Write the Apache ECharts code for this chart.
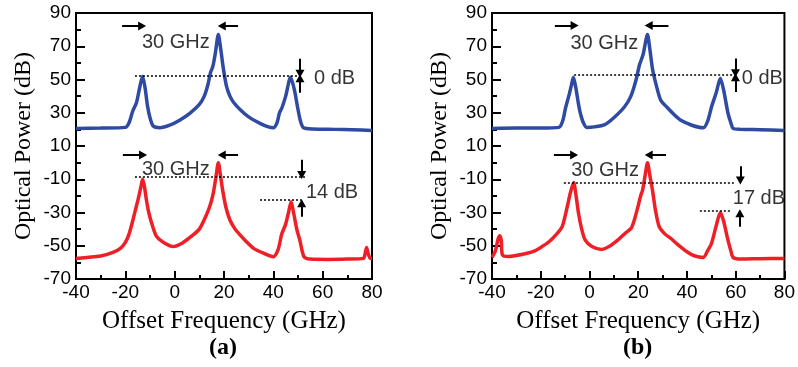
<!DOCTYPE html>
<html><head><meta charset="utf-8">
<script src="https://cdn.jsdelivr.net/npm/echarts@6/dist/echarts.min.js"></script>
<style>html,body{margin:0;padding:0;background:#fff}#c{width:798px;height:367px}</style>
</head><body><div id="c"></div>
<script>
// ---- data (offset frequency GHz, optical power dB) ----
const blueA = [[-40,20.6],[-30,20.8],[-20,21.2],[-18.5,24],[-17,31],[-15.5,36],[-14.2,45],[-13,52],[-12,45],[-11,34],[-10,27],[-8.7,22],[-6,21],[-2,22.5],[2,25.5],[6,29.5],[10,35],[12,40],[13.5,47],[14.5,54],[15.5,58],[16.5,66],[17.7,77],[18.7,68],[19.7,57],[21,46],[22.4,40],[24,36],[26.5,32],[30,27.5],[34.6,23.6],[38,21.5],[40,21],[41.5,24],[42.5,30],[43.5,33],[45,40],[47,51.3],[48.5,44],[50,32],[51,25],[52.2,21],[56,20.2],[65,20],[72,19.8],[80,19.3]];
const redA = [[-40,-57.6],[-30,-56.2],[-25,-54],[-22,-51.6],[-20,-48],[-18.5,-43],[-17,-35],[-16,-29],[-14.8,-22],[-13.6,-14],[-13,-10],[-12.3,-14],[-11.5,-22],[-10.5,-30],[-9,-38],[-7.3,-44.5],[-4,-48.5],[-0.5,-50.5],[3,-48.5],[6.2,-45],[10,-40],[13,-31],[14.5,-25],[15.7,-18],[16.8,-8],[17.7,0],[18.6,-8],[19.5,-17],[20.8,-27],[22.4,-34.5],[24.5,-40],[26.5,-43.5],[29,-47.5],[32,-51.6],[36,-54.5],[40,-56.6],[42,-52],[43.4,-43],[45,-37],[46.3,-29],[47.2,-23.5],[48.2,-30],[49.5,-40],[50.8,-47],[52.4,-56.5],[55,-58],[62,-58.2],[70,-58],[76.5,-57.6],[77.3,-54],[77.8,-51],[78.5,-55],[79.2,-57.5],[80,-57.6]];
const blueB = [[-40,20.6],[-30,20.8],[-20,20.8],[-12.5,21.2],[-11,25],[-9.8,33],[-8.5,40],[-7.5,46],[-6.6,51.3],[-5.6,45],[-4.6,36],[-3.8,30],[-2.5,24],[-1.1,21.2],[2,21.5],[6.3,22.9],[10,27],[14.4,33.6],[17,40],[19.1,49.7],[20.5,58.7],[22,65],[23.8,77],[24.8,68],[25.9,56],[27.5,46],[29.2,37.7],[32,33],[35,28.5],[37.3,25.6],[42,22.5],[46.7,21],[48.5,25],[50.1,33.6],[52,42],[53.7,50.7],[55,44],[56.8,30],[58,24],[58.9,20.6],[62,20],[70,19.8],[80,19.3]];
const redB = [[-40,-57],[-38.6,-53],[-37.5,-46],[-36.8,-44],[-36.2,-47],[-35.7,-55.6],[-33,-56.5],[-31.4,-56.2],[-27,-55],[-23.3,-53.6],[-20,-51],[-16.6,-47.6],[-13.5,-43],[-11.2,-38.5],[-9.2,-27],[-7.8,-18],[-6.5,-12],[-5.5,-20],[-4.5,-30.5],[-3.2,-40],[-1.8,-46.5],[1,-50.5],[5,-52.2],[8,-50.5],[11.7,-46.5],[15,-42],[17.1,-39.5],[18.5,-34],[19.8,-27],[21,-20],[21.8,-16.5],[22.8,-8],[23.8,0],[24.8,-8],[25.9,-17],[27,-28],[28.6,-38.5],[31,-43],[33.3,-45.5],[36,-49],[40,-53.6],[43,-56],[46.7,-57],[48.5,-53],[50.1,-48.5],[52,-38],[53.7,-30],[55,-35],[56.8,-46.5],[58,-53],[58.9,-57],[62,-58],[70,-57.8],[80,-57.6]];

// axis ranges / ticks
const xMin = -40, xMax = 80, xStep = 20;
const yMin = -70, yMax = 90, yStep = 20;

// annotations: dotted reference lines [x1,y1,x2,y2]
const dottedA = [[-16.1,52.1,50.5,52.1],[-16.1,-8.5,53.5,-8.5],[34.6,-22.5,51.5,-22.5]];
const dottedB = [[-6.3,52.7,58.8,52.7],[-10.5,-12,59.9,-12],[45.3,-28.9,58.1,-28.9]];
// arrows [fromX,fromY,toX,toY] (head at "to")
const arrowsA = [[-21.3,82.2,-13.2,82.2],[25.7,82.2,19.1,82.2],[-21,4.6,-12.8,4.6],[25.7,4.6,19.1,4.6],
                 [50.8,62.5,50.8,53.5],[50.8,42,50.8,50.7],[51.5,1.8,51.5,-7.4],[51.5,-32.5,51.5,-24.5]];
const arrowsB = [[-14.2,82.5,-6.1,82.5],[32.4,82.5,24.3,82.5],[-14.6,4.6,-6.3,4.6],[31.4,4.6,24.3,4.6],
                 [59.9,62.7,59.9,53.8],[59.9,42.5,59.9,51.3],[61.9,-2.2,61.9,-10.8],[61.7,-38.5,61.7,-30.5]];
// texts [x, y, text, align]
const textsA = [[0.5,72,'30 GHz','center'],[0.5,-4.4,'30 GHz','center'],[56.5,50.5,'0 dB','left'],[53.2,-18.1,'14 dB','left']];
const textsB = [[6.1,71.8,'30 GHz','center'],[6.4,-4.8,'30 GHz','center'],[62.5,50.5,'0 dB','left'],[58.8,-21.5,'17 dB','left']];

const panelLabels = ['(a)','(b)'];
const xTitle = 'Offset Frequency (GHz)';
const yTitle = 'Optical Power (dB)';

// y values are shifted so the axis starts at 0 (tick every 20 from -70)
const sy = v => v - yMin;
const conv = arr => arr.map(p => [p[0], sy(p[1])]);

const BLUE = '#2f4aa3', RED = '#ee1f26';
const SANS = '"Liberation Sans", Arial, sans-serif';
const SERIF = '"Liberation Serif", "Times New Roman", serif';

function xAxis(gi){
  return {type:'value', gridIndex:gi, min:xMin, max:xMax, interval:xStep,
    axisLine:{show:true,onZero:false,lineStyle:{color:'#000',width:2}},
    axisTick:{show:true,inside:true,length:8,lineStyle:{color:'#000',width:2}},
    minorTick:{show:true,splitNumber:2,length:4,lineStyle:{color:'#000',width:2}},
    splitLine:{show:false}, minorSplitLine:{show:false},
    axisLabel:{color:'#000',fontSize:19,fontFamily:SANS,margin:4,showMinLabel:true,showMaxLabel:true},
    name:xTitle, nameLocation:'middle', nameGap:30,
    nameTextStyle:{fontFamily:SERIF,fontSize:25,color:'#000'}};
}
function yAxis(gi){
  return {type:'value', gridIndex:gi, min:0, max:yMax-yMin, interval:yStep,
    axisLine:{show:true,onZero:false,lineStyle:{color:'#000',width:2}},
    axisTick:{show:true,inside:true,length:9,lineStyle:{color:'#000',width:2}},
    minorTick:{show:true,splitNumber:2,length:5,lineStyle:{color:'#000',width:2}},
    splitLine:{show:false}, minorSplitLine:{show:false},
    axisLabel:{color:'#000',fontSize:19,fontFamily:SANS,margin:5,formatter:v=>String(v+yMin)},
    name:yTitle, nameLocation:'middle', nameGap:40, nameRotate:90,
    nameTextStyle:{fontFamily:SERIF,fontSize:24,color:'#000'}};
}
function markLines(dotted, arrows){
  const data = [];
  dotted.forEach(d => data.push([
    {coord:[d[0],sy(d[1])], symbol:'none', lineStyle:{type:[2,2],width:1.6,color:'#000'}},
    {coord:[d[2],sy(d[3])], symbol:'none'}]));
  arrows.forEach(a => data.push([
    {coord:[a[0],sy(a[1])], symbol:'none', lineStyle:{type:'solid',width:2,color:'#000'}},
    {coord:[a[2],sy(a[3])], symbol:'triangle', symbolSize:[9,8]}]));
  return {silent:true, animation:false, label:{show:false}, symbol:'none', data};
}
function textSeries(gi, texts){
  return {type:'scatter', xAxisIndex:gi, yAxisIndex:gi, symbolSize:0, silent:true, z:10,
    data: texts.map(t => ({value:[t[0], sy(t[1])],
      label:{show:true, position:'inside', formatter:t[2], align:t[3], verticalAlign:'middle',
        color:'#000', fontSize:20, fontFamily:SANS}}))};
}
function lineSeries(gi, data, color, extra){
  return Object.assign({type:'line', xAxisIndex:gi, yAxisIndex:gi, data:conv(data), showSymbol:false,
    symbol:'none', smooth:0.25, lineStyle:{color, width:3.5}, itemStyle:{color}}, extra||{});
}

const chart = echarts.init(document.getElementById('c'), null, {renderer:'canvas'});
chart.setOption({
  animation:false,
  backgroundColor:'#fff',
  grid:[
    {left:76, top:13, width:296, height:266, show:true, borderColor:'#000', borderWidth:2},
    {left:492, top:13, width:297, height:266, show:true, borderColor:'#000', borderWidth:2}
  ],
  xAxis:[xAxis(0), xAxis(1)],
  yAxis:[yAxis(0), yAxis(1)],
  series:[
    lineSeries(0, blueA, BLUE, {markLine: markLines(dottedA, arrowsA)}),
    lineSeries(0, redA, RED),
    lineSeries(1, blueB, BLUE, {markLine: markLines(dottedB, arrowsB)}),
    lineSeries(1, redB, RED),
    textSeries(0, textsA),
    textSeries(1, textsB)
  ],
  graphic:[
    {type:'text', left:226-17, top:336, style:{text:panelLabels[0], font:'bold 24px '+SERIF, fill:'#000'}},
    {type:'text', left:640-17, top:336, style:{text:panelLabels[1], font:'bold 24px '+SERIF, fill:'#000'}}
  ]
});
</script></body></html>
